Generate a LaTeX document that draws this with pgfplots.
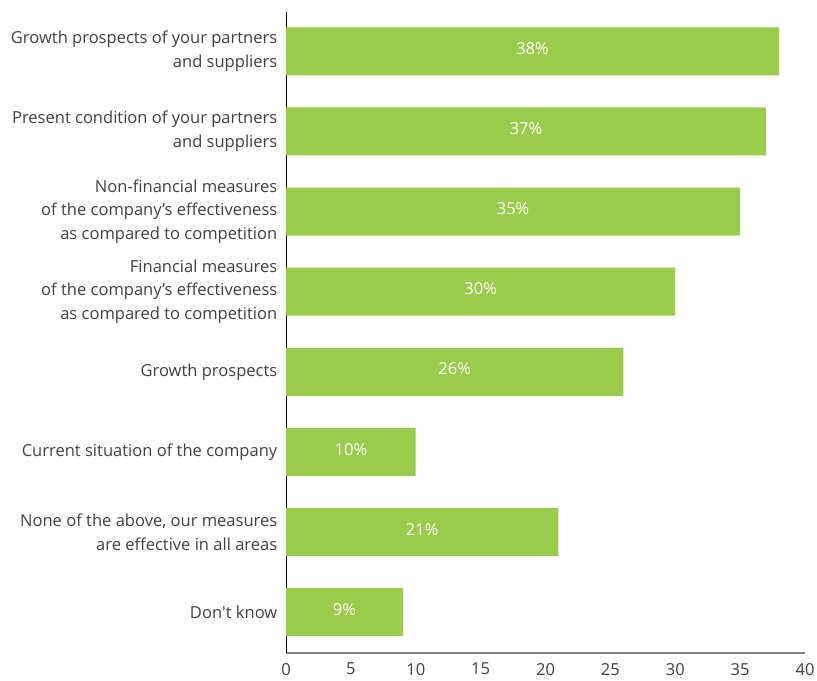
\documentclass[border=0pt]{standalone}
\usepackage{pgfplots}
\pgfplotsset{compat=1.18}
\usepackage{pgfplotstable}
\usepackage{fontspec}
\setmainfont{Open Sans}
\definecolor{bargreen}{HTML}{9BCB4B}
\definecolor{txt}{HTML}{404040}
\pgfplotstableread{
y v
7 38
6 37
5 35
4 30
3 26
2 10
1 21
0 9
}\data
\begin{document}
\begin{tikzpicture}[font=\fontsize{12.4pt}{17.8pt}\selectfont]
\path[use as bounding box] (-214.5pt,-21pt) rectangle (398.25pt,489.75pt);
\begin{axis}[
  scale only axis,
  width=389.25pt, height=480.75pt,
  at={(0,0)}, anchor=south west,
  xmin=0, xmax=40,
  ymin=-0.51, ymax=7.49,
  xbar, bar width=36pt,
  axis x line=bottom, axis y line=left,
  x axis line style={-, draw=black!50, line width=0.8pt},
  y axis line style={-, draw=black, line width=0.6pt},
  major tick length=0pt,
  xtick={0,5,...,40},
  ytick={0,...,7},
  yticklabels={{Don\textquotesingle t know},
    {None of the above, our measures\\are effective in all areas},
    {Current situation of the company},
    {Growth prospects},
    {Financial measures\\of the company’s effectiveness\\as compared to competition},
    {Non-financial measures\\of the company’s effectiveness\\as compared to competition},
    {Present condition of your partners\\and suppliers},
    {Growth prospects of your partners\\and suppliers}},
  yticklabel style={align=right, text=txt, xshift=-3pt},
  xticklabel style={text=txt, yshift=-4pt},
  /pgf/number format/assume math mode=true,
  clip=false,
]
\addplot[fill=bargreen, draw=none] table[x=v, y=y] {\data};
\addplot[xbar=0pt, draw=none, fill=none, bar width=0pt, forget plot,
  nodes near coords={\pgfmathprintnumber{\pgfplotspointmeta}\%},
  point meta=explicit,
  every node near coord/.append style={anchor=center, text=white, font=\fontsize{12.4pt}{14pt}\selectfont}]
  table[x expr=\thisrow{v}/2, y=y, meta=v] {\data};
\end{axis}
\end{tikzpicture}
\end{document}
